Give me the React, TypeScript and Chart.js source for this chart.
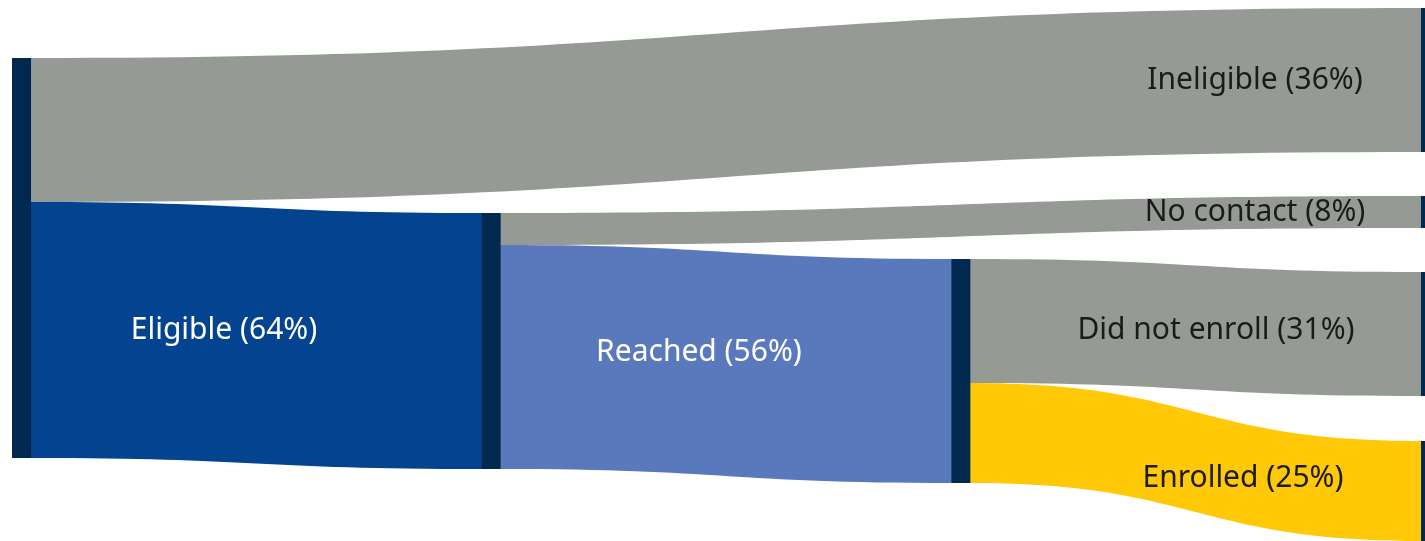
import React, { useEffect, useRef } from "react";
import { Chart, registerables } from "chart.js";

Chart.register(...registerables);

// ---- Data ----
const nodeNames = ["Total", "Eligible", "Reached", "Ineligible", "No contact", "Did not enroll", "Enrolled"];
const nodeColumns = [0, 1, 2, 3, 3, 3, 3];
// vertical offset of each node's top, in percentage units
const nodeTops = [0, 38.75, 50.25, -12.5, 34.5, 53.5, 95.75];

const flowFrom = [0, 0, 1, 1, 2, 2];
const flowTo = [3, 1, 4, 2, 5, 6];
const flowValues = [36, 64, 8, 56, 31, 25];

// labels: which node's value/name they show, and where they sit (column units, percent units)
const labelNodes = [1, 2, 3, 4, 5, 6];
const labelX = [0.4514, 1.4627, 2.6466, 2.6466, 2.5635, 2.621];
const labelY = [68, 73.5, 5.5, 38.5, 68, 105];

// ---- Styles ----
const flowColors = ["#969a95", "#03438f", "#969a95", "#5a79bc", "#969a95", "#ffc907"];
const labelColors = ["#ffffff", "#ffffff", "#1b1b1b", "#1b1b1b", "#1b1b1b", "#1b1b1b"];
const NODE_COLOR = "#01284f";
const NODE_WIDTH = 0.0405; // in column units

function nodeValue(i: number): number {
  let inSum = 0;
  let outSum = 0;
  flowValues.forEach((v, k) => {
    if (flowTo[k] === i) inSum += v;
    if (flowFrom[k] === i) outSum += v;
  });
  return Math.max(inSum, outSum);
}

const sankeyPlugin = {
  id: "sankeyDraw",
  afterDatasetsDraw(chart: any) {
    const ctx = chart.ctx as CanvasRenderingContext2D;
    const xs = chart.scales.x;
    const ys = chart.scales.y;
    const px = (v: number) => xs.getPixelForValue(v);
    const py = (v: number) => ys.getPixelForValue(v);

    const outOffset = nodeNames.map(() => 0);
    const inOffset = nodeNames.map(() => 0);

    ctx.save();
    // flows
    flowValues.forEach((v, k) => {
      const s = flowFrom[k];
      const t = flowTo[k];
      const x0 = px(nodeColumns[s] + NODE_WIDTH);
      const x1 = px(nodeColumns[t]);
      const sTop = py(nodeTops[s] + outOffset[s]);
      const sBot = py(nodeTops[s] + outOffset[s] + v);
      const tTop = py(nodeTops[t] + inOffset[t]);
      const tBot = py(nodeTops[t] + inOffset[t] + v);
      outOffset[s] += v;
      inOffset[t] += v;
      const xm = (x0 + x1) / 2;
      ctx.beginPath();
      ctx.moveTo(x0 - 0.5, sTop);
      ctx.lineTo(x0, sTop);
      ctx.bezierCurveTo(xm, sTop, xm, tTop, x1, tTop);
      ctx.lineTo(x1 + 0.5, tTop);
      ctx.lineTo(x1 + 0.5, tBot);
      ctx.lineTo(x1, tBot);
      ctx.bezierCurveTo(xm, tBot, xm, sBot, x0, sBot);
      ctx.lineTo(x0 - 0.5, sBot);
      ctx.closePath();
      ctx.fillStyle = flowColors[k];
      ctx.fill();
    });

    // nodes
    nodeNames.forEach((_, i) => {
      const val = nodeValue(i);
      const x0 = px(nodeColumns[i]);
      const x1 = px(nodeColumns[i] + NODE_WIDTH);
      const y0 = py(nodeTops[i]);
      const y1 = py(nodeTops[i] + val);
      ctx.fillStyle = NODE_COLOR;
      ctx.fillRect(x0, y0, x1 - x0, y1 - y0);
    });

    // labels
    ctx.font = '30px "Noto Sans", "Open Sans", sans-serif';
    ctx.textAlign = "center";
    ctx.textBaseline = "middle";
    labelNodes.forEach((n, i) => {
      const text = `${nodeNames[n]} (${nodeValue(n)}%)`;
      ctx.fillStyle = labelColors[i];
      ctx.fillText(text, px(labelX[i]), py(labelY[i]));
    });
    ctx.restore();
  },
};

export default function App() {
  const canvasRef = useRef<HTMLCanvasElement | null>(null);

  useEffect(() => {
    if (!canvasRef.current) return;
    const chart = new Chart(canvasRef.current, {
      type: "scatter",
      data: { datasets: [{ data: [] }] },
      options: {
        animation: false,
        responsive: true,
        maintainAspectRatio: false,
        layout: { padding: 0 },
        plugins: { legend: { display: false }, tooltip: { enabled: false } },
        scales: {
          x: { type: "linear", min: -12 / 469.67, max: (1425 - 12) / 469.67, display: false },
          y: { type: "linear", min: -14.5, max: 120.75, reverse: true, display: false },
        },
      },
      plugins: [sankeyPlugin],
    });
    return () => chart.destroy();
  }, []);

  return (
    <div style={{ position: "fixed", left: 0, top: 0, width: 1425, height: 541, background: "#ffffff" }}>
      <canvas ref={canvasRef} />
    </div>
  );
}
